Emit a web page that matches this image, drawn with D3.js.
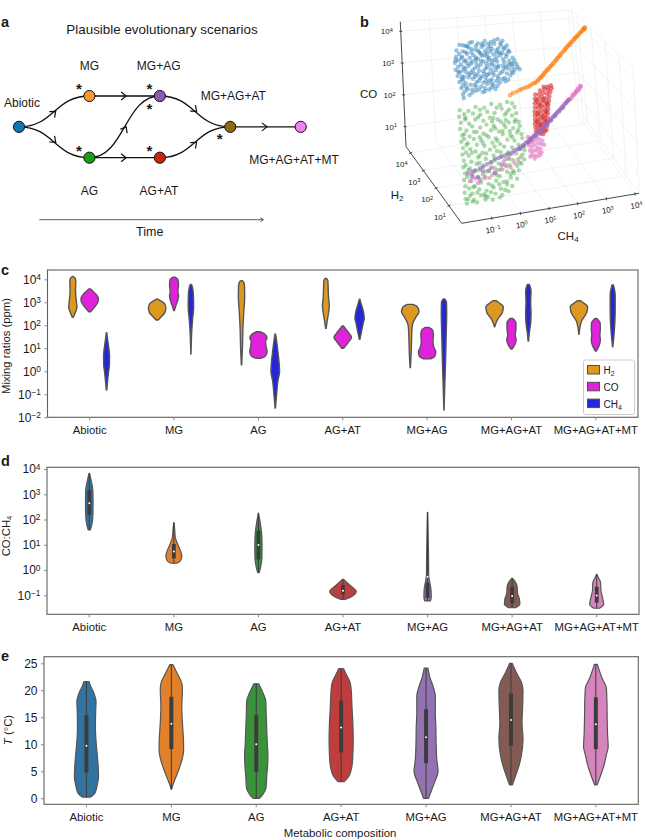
<!DOCTYPE html>
<html><head><meta charset="utf-8">
<style>html,body{margin:0;padding:0;background:#fff}svg{display:block}text{font-family:"Liberation Sans",Arial,sans-serif;fill:#1a1a1a}</style>
<script src="https://cdn.jsdelivr.net/npm/d3@7"></script></head><body>
<svg id="c" width="645" height="840"></svg>
<script>
const categories=["Abiotic","MG","AG","AG+AT","MG+AG","MG+AG+AT","MG+AG+AT+MT"];
const gases=["H2","CO","CH4"];
const gasColors=["#DD981F","#E022DC","#2525DA"];
const tabColors=["#3274a1","#e1812c","#3a923a","#c03d3e","#9372b2","#845b53","#d684bd"];

// panel c: [log10 mixing ratio, relative density]
const mixH2=[
[[2.35,.05],[2.5,.22],[2.8,.46],[3.1,.38],[3.5,.3],[3.9,.33],[4.05,.25],[4.12,.05]],
[[2.23,.1],[2.35,.4],[2.55,.85],[2.75,.97],[2.95,.8],[3.05,.45],[3.13,.1]],
[[.28,.02],[1,.1],[1.8,.15],[2.6,.25],[3.2,.35],[3.7,.33],[3.9,.2],[3.94,.05]],
[[1.87,.03],[2.2,.15],[2.6,.32],[2.85,.38],[3.2,.3],[3.7,.25],[3.95,.22],[4.04,.05]],
[[.16,.02],[.8,.1],[1.3,.14],[1.9,.2],[2.1,.3],[2.3,.55],[2.6,.97],[2.8,.8],[2.91,.3]],
[[1.94,.03],[2.1,.15],[2.3,.4],[2.55,.85],[2.8,.97],[2.95,.6],[3.07,.15]],
[[1.61,.02],[1.9,.1],[2.2,.3],[2.5,.8],[2.8,.97],[2.95,.6],[3.07,.15]]];
const mixCO=[
[[2.59,.1],[2.7,.35],[2.9,.75],[3.1,.97],[3.2,.95],[3.35,.7],[3.5,.3],[3.58,.1]],
[[2.64,.04],[2.85,.2],[3.1,.42],[3.3,.5],[3.47,.42],[3.75,.5],[4.0,.42],[4.09,.1]],
[[.57,.3],[.65,.75],[.85,.97],[1.1,.85],[1.3,.8],[1.45,.95],[1.62,.7],[1.72,.2]],
[[1,.1],[1.15,.4],[1.35,.8],[1.48,.97],[1.65,.7],[1.85,.3],[1.97,.08]],
[[.54,.4],[.65,.85],[.85,.97],[1.05,.75],[1.3,.65],[1.6,.7],[1.8,.6],[1.91,.2]],
[[.97,.08],[1.15,.35],[1.35,.52],[1.6,.42],[1.85,.5],[2.1,.5],[2.3,.12]],
[[.88,.05],[1.1,.35],[1.35,.5],[1.6,.45],[1.85,.5],[2.1,.48],[2.3,.1]]];
const mixCH4=[
[[-.81,.03],[-.5,.1],[-.1,.2],[.3,.32],[.7,.33],[1.1,.22],[1.5,.08],[1.68,.03]],
[[.75,.01],[1.2,.04],[1.8,.1],[2.3,.2],[2.8,.3],[3.3,.28],[3.65,.18],[3.78,.05]],
[[-1.6,.02],[-1,.15],[-.4,.3],[0,.48],[.4,.42],[.9,.28],[1.4,.12],[1.62,.03]],
[[1.39,.03],[1.7,.2],[2.1,.4],[2.3,.52],[2.6,.42],[2.9,.2],[3.13,.03]],
[[-1.68,.01],[-.5,.1],[.5,.18],[1.5,.24],[2.5,.3],[3,.28],[3.14,.1]],
[[1.32,.03],[1.7,.12],[2.1,.26],[2.5,.3],[3,.26],[3.5,.3],[3.78,.1]],
[[1.07,.02],[1.6,.15],[2.2,.25],[2.8,.28],[3.3,.28],[3.75,.08]]];

// panel d: log10 CO:CH4
const ratioViolins=[
[[1.59,.08],[1.8,.18],[2.2,.26],[2.7,.27],[3.2,.25],[3.5,.15],[3.83,.02]],
[[.27,.2],[.35,.45],[.55,.57],[.8,.45],[1.05,.25],[1.3,.1],[1.6,.06],[1.88,.01]],
[[-.1,.05],[.1,.15],[.5,.25],[1,.26],[1.5,.22],[1.9,.12],[2.25,.01]],
[[-1.16,.15],[-1.05,.6],[-.85,.95],[-.65,.6],[-.5,.3],[-.37,.03]],
[[-1.22,.2],[-1.1,.26],[-.8,.25],[-.5,.16],[-.2,.08],[.5,.07],[1.5,.04],[2.28,.01]],
[[-1.49,.25],[-1.35,.55],[-1.15,.52],[-.9,.38],[-.65,.36],[-.45,.2],[-.33,.03]],
[[-1.51,.2],[-1.35,.5],[-1.1,.42],[-.8,.3],[-.5,.28],[-.3,.12],[-.17,.02]]];
const ratioQ1=[2.18,.46,.42,-.96,-1.1,-1.32,-1.29];
const ratioMedian=[2.64,.73,.99,-.82,-.26,-1.03,-1.01];
const ratioQ3=[3.17,1.03,1.56,-.59,-.5,-.66,-.66];

// panel e: temperature
const tempViolins=[
[[.2,.3],[1,.7],[2.5,.88],[4,.98],[6,.95],[8,.88],[10,.8],[13,.73],[16,.75],[18,.78],[19.5,.6],[21,.3],[21.6,.22]],
[[1.7,.03],[2.5,.12],[3.5,.3],[5,.55],[7,.85],[9,1],[11,.98],[14,.9],[17,.85],[20,.9],[21.3,.85],[23,.5],[24.4,.2],[24.75,.12]],
[[0,.25],[.6,.5],[2,.8],[4,.85],[6,.92],[8,.95],[10,.9],[13,.85],[16,.8],[18,.78],[19.5,.55],[20.7,.3],[21.2,.2]],
[[3.1,.25],[4,.6],[6,.88],[8,.95],[11,.98],[14,.95],[17,.88],[20,.82],[21.5,.72],[23,.4],[24,.2]],
[[0,.2],[1.5,.45],[3,.7],[5,.98],[7,.88],[10,.82],[13,.8],[16,.75],[19,.75],[20.5,.6],[22.5,.3],[24.1,.15]],
[[2.5,.12],[4,.35],[6,.65],[8,.85],[11,.98],[14,.9],[17,.95],[20,.98],[21.5,.85],[23,.5],[25,.1]],
[[2.5,.1],[4,.35],[6,.65],[8,.85],[9.5,1],[12,.95],[15,.92],[18,.9],[20.5,.85],[22,.55],[24.8,.12]]];
const tempQ1=[4.75,9.1,4.9,8.5,6.5,9.7,9.1];
const tempMedian=[9.75,13.8,10,13.1,11.3,14.5,13.7];
const tempQ3=[15.4,18.8,15.4,18.1,16.5,19.4,18.7];

// panel a
const nodes=[
{id:"Abiotic",stage:0,lane:0,color:"#1175b5"},
{id:"MG",stage:1,lane:-1,color:"#f7982c"},
{id:"AG",stage:1,lane:1,color:"#12a012"},
{id:"MG+AG",stage:2,lane:-1,color:"#8a5cb8"},
{id:"AG+AT",stage:2,lane:1,color:"#d0210f"},
{id:"MG+AG+AT",stage:3,lane:0,color:"#8c6a0e"},
{id:"MG+AG+AT+MT",stage:4,lane:0,color:"#f080f0"}];
const edges=[["Abiotic","MG"],["Abiotic","AG"],["MG","MG+AG"],["AG","MG+AG"],["AG","AG+AT"],["MG+AG","MG+AG+AT"],["AG+AT","MG+AG+AT"],["MG+AG+AT","MG+AG+AT+MT"]];
const starNodes=["MG","AG","MG+AG","MG+AG","AG+AT","MG+AG+AT"];
const starSides=["nw","nw","nw","s","nw","sw"];

// panel b: [log10 CH4, log10 CO] in a plane of constant log10 H2
const abioticH2=3.2,mgH2=2.7,agH2=2.5,agatH2=3,mgagH2=2.7,lateH2=2.7;
const abioticPts=[[-.52,3.98],[-.31,3.91],[-.08,4.0],[.12,3.93],[.36,3.97],[.58,3.9],[.82,3.96],[.98,3.88],[-.63,3.82],[-.42,3.76],[-.2,3.84],[.03,3.74],[.24,3.8],[.47,3.72],[.69,3.83],[.91,3.75],[1.12,3.71],[-.66,3.62],[-.47,3.55],[-.27,3.66],[-.05,3.58],[.16,3.64],[.33,3.53],[.55,3.61],[.77,3.54],[1.0,3.62],[1.2,3.5],[-.7,3.44],[-.5,3.36],[-.33,3.47],[-.12,3.39],[.09,3.45],[.28,3.34],[.49,3.42],[.68,3.33],[.88,3.44],[1.08,3.36],[1.3,3.3],[-.69,3.22],[-.44,3.16],[-.24,3.27],[-.02,3.18],[.19,3.25],[.4,3.14],[.6,3.22],[.8,3.12],[1.01,3.2],[1.23,3.12],[1.42,3.08],[-.63,3.02],[-.4,2.95],[-.17,3.05],[.06,2.96],[.27,3.03],[.47,2.93],[.71,3.0],[.93,2.92],[1.14,2.98],[1.36,2.92],[1.53,2.9],[-.58,2.82],[-.36,2.75],[-.11,2.85],[.1,2.76],[.34,2.83],[.55,2.73],[.76,2.8],[1.0,2.71],[1.2,2.76],[-.52,2.62],[-.3,2.55],[-.06,2.65],[.17,2.56],[.39,2.62],[.6,2.53],[.82,2.59],[-.47,2.42],[-.25,2.36],[-.02,2.46],[.22,2.38],[.44,2.43],[.66,2.41],[-.45,2.3],
[-.4,3.95],[-.17,3.99],[.05,3.86],[.26,3.9],[.48,3.86],[.7,3.94],[.9,3.82],[-.55,3.7],[-.32,3.72],[-.12,3.68],[.12,3.7],[.36,3.66],[.6,3.68],[.82,3.66],[1.04,3.66],[-.58,3.5],[-.38,3.44],[-.18,3.52],[.03,3.49],[.24,3.52],[.42,3.47],[.65,3.5],[.86,3.52],[1.1,3.44],[-.6,3.3],[-.4,3.26],[-.15,3.33],[.04,3.3],[.2,3.36],[.38,3.25],[.58,3.32],[.76,3.26],[.97,3.3],[1.18,3.22],[1.36,3.2],[-.56,3.12],[-.32,3.08],[-.1,3.12],[.12,3.07],[.34,3.1],[.53,3.05],[.78,3.08],[1.06,3.06],[1.28,3.02],[1.46,2.98],[-.5,2.9],[-.25,2.92],[-.02,2.9],[.2,2.88],[.4,2.9],[.62,2.86],[.85,2.88],[1.08,2.84],[1.3,2.82],[-.46,2.7],[-.2,2.68],[.02,2.72],[.25,2.68],[.47,2.7],[.7,2.66],[.92,2.68],[1.12,2.64],[-.4,2.5],[-.14,2.52],[.09,2.48],[.3,2.5],[.53,2.48],[.74,2.5],
[-.45,3.6],[-.1,3.78],[.2,3.6],[.55,3.78],[.95,3.5],[-.6,3.15],[-.28,3.37],[.1,3.2],[.45,3.35],[.75,3.4],[1.15,3.1],[-.48,2.98],[-.05,3.0],[.3,2.95],[.66,3.12],[1.25,2.88],[-.35,2.62],[.0,2.58],[.35,2.72],[.78,2.72],[1.02,2.6],[-.15,2.42],[.3,2.4],[.55,2.6],[-.25,3.9],[.32,3.84],[.75,3.62],[1.16,3.55],[.95,3.1],[-.68,3.52],[-.22,3.0],[.15,2.83],[.6,2.95],[1.0,3.0],[-.35,3.2],[.42,3.58],[-.45,2.85],[.0,3.42],[.52,3.2],[1.3,3.12]];
const mgPts=[[.95,2.45],[1.05,2.5],[1.18,2.52],[1.29,2.56],[1.36,2.58],[1.46,2.6],[1.55,2.61],[1.64,2.63],[1.7,2.67],[1.78,2.7],[1.84,2.7],[1.9,2.74],[1.95,2.77],[2.0,2.82],[2.04,2.84],[2.08,2.88],[2.12,2.9],[2.16,2.95],[2.2,2.98],[2.25,3.03],[2.29,3.04],[2.33,3.08],[2.37,3.12],[2.41,3.15],[2.46,3.18],[2.5,3.22],[2.56,3.27],[2.6,3.3],[2.64,3.35],[2.68,3.37],[2.72,3.42],[2.76,3.44],[2.8,3.49],[2.87,3.53],[2.9,3.58],[2.94,3.6],[2.98,3.64],[3.02,3.67],[3.06,3.71],[3.1,3.72],[3.14,3.77],[3.18,3.79],[3.24,3.84],[3.27,3.88],[3.3,3.89],[3.34,3.93],[3.38,3.95],[3.42,3.98],[3.46,4.02],[3.5,4.04],[3.54,4.08],[3.58,4.1],[3.62,4.14],[3.65,4.17],[3.63,4.12],[3.6,4.13]];
const agPts=[[-.9,2.37],[-.6,2.3],[-.35,2.39],[-.05,2.32],[.2,2.4],[.5,2.33],[.75,2.38],[.92,2.31],[-.93,2.17],[-.72,2.1],[-.45,2.2],[-.2,2.12],[.05,2.18],[.3,2.1],[.55,2.2],[.8,2.13],[1.0,2.18],[-.88,1.97],[-.6,1.9],[-.38,2.0],[-.1,1.92],[.12,1.98],[.4,1.88],[.65,1.99],[.9,1.93],[1.05,1.98],[-.92,1.78],[-.7,1.7],[-.5,1.8],[-.22,1.72],[0,1.78],[.25,1.7],[.5,1.8],[.78,1.73],[1.02,1.78],[1.12,1.7],[-.86,1.57],[-.6,1.5],[-.35,1.6],[-.12,1.52],[.15,1.58],[.42,1.5],[.66,1.6],[.92,1.53],[1.15,1.57],[-.9,1.38],[-.68,1.3],[-.46,1.4],[-.2,1.32],[.06,1.38],[.3,1.3],[.55,1.4],[.82,1.33],[1.05,1.38],[1.2,1.3],[-.85,1.17],[-.6,1.1],[-.36,1.2],[-.1,1.12],[.18,1.18],[.44,1.1],[.7,1.2],[.95,1.13],[1.22,1.17],[-.88,.97],[-.66,.9],[-.42,1.0],[-.18,.92],[.08,.98],[.32,.9],[.58,1.0],[.85,.93],[1.08,.98],[1.26,.9],[-.84,.77],[-.58,.7],[-.34,.8],[-.08,.72],[.2,.78],[.46,.7],[.72,.8],[.98,.73],[1.28,.78],[-.87,.57],[-.64,.5],[-.4,.6],[-.16,.52],[.1,.58],[.36,.5],[.6,.6],[.86,.53],[1.12,.58],[1.25,.5],[-.82,.37],[-.56,.3],[-.3,.4],[-.05,.32],[.22,.38],[.48,.3],[.74,.4],[1.0,.33],[1.15,.38],[-.86,.17],[-.62,.1],[-.38,.2],[-.14,.12],[.12,.18],[.38,.1],[.64,.2],[.88,.13],[1.05,.18],[-.83,-.03],[-.55,-.1],[-.28,0],[-.02,-.08],[.25,-.02],[.5,-.1],[.76,0],[.98,-.07],[-.86,-.23],[-.6,-.3],[-.35,-.2],[-.1,-.28],[.15,-.22],[.4,-.3],[.62,-.2],[.8,-.27],[-.84,-.43],[-.55,-.5],[-.3,-.4],[-.06,-.48],[.2,-.42],[.44,-.5],[.66,-.42],[-.8,-.58],[-.45,-.6],[-.15,-.55],[.1,-.6],[.35,-.56],
[-.75,2.22],[-.2,2.28],[.38,2.25],[.68,1.82],[-.78,1.6],[-.25,1.42],[.3,1.62],[.8,1.45],[-.75,1.02],[-.28,.85],[.25,1.05],[.72,.6],[-.7,.45],[-.2,.25],[.32,.3],[.85,.2],[-.7,-.12],[-.18,-.38],[.35,-.15],[-.68,-.35],
[-.72,2.05],[-.28,2.05],[.2,1.85],[.72,2.05],[.98,1.72],[-.8,1.45],[-.45,1.62],[-.02,1.45],[.55,1.5],[1.1,1.45],[-.72,1.25],[-.15,1.22],[.35,1.22],[.88,1.25],[-.55,.98],[-.05,.88],[.45,.85],[1.15,.85],[-.78,.62],[-.3,.62],[.22,.62],[.78,.72],[1.2,.65],[-.48,.4],[.08,.4],[.6,.42],[1.08,.42],[-.75,.25],[-.3,.12],[.28,.15],[.76,.12],[-.5,-.08],[.1,-.15],[.62,-.1],[-.75,-.45],[-.42,-.3],[.05,-.35],[.55,-.35],[-.6,-.55],[-.15,-.45],[.25,1.95],[.6,1.7]];
const agatPts=[[2.25,2.35],[2.38,2.33],[2.5,2.35],[2.12,2.25],[2.27,2.27],[2.4,2.24],[2.52,2.26],[1.95,2.15],[2.08,2.13],[2.22,2.16],[2.35,2.12],[2.47,2.15],[1.93,2.02],[2.05,2.0],[2.18,2.04],[2.3,1.98],[2.43,2.02],[1.92,1.88],[2.04,1.86],[2.17,1.9],[2.29,1.85],[2.41,1.89],[1.92,1.75],[2.03,1.73],[2.16,1.76],[2.28,1.72],[2.38,1.76],[1.9,1.62],[2.02,1.6],[2.14,1.64],[2.26,1.59],[2.37,1.63],[1.9,1.5],[2.01,1.47],[2.13,1.51],[2.25,1.46],[2.35,1.5],[1.9,1.37],[2.01,1.34],[2.12,1.38],[2.23,1.33],[2.33,1.37],[1.89,1.24],[2,1.21],[2.11,1.25],[2.22,1.2],[2.32,1.24],[1.9,1.12],[2,1.09],[2.1,1.13],[2.2,1.08],[2.3,1.11],[1.92,1],[2.02,.97],[2.12,1],[2.22,.96],[2.28,.99],[2.06,.9],[2.16,.88],[1.98,1.95],[2.1,1.8],[2.22,1.95],[2.34,1.82],[2,1.55],[2.18,1.42],[2.3,1.56],[1.96,1.3],[2.08,1.18],[2.26,1.28]];
const mgagPts=[[-.63,.23],[-.48,.27],[-.36,.28],[-.2,.33],[-.1,.36],[.05,.42],[.18,.46],[.32,.54],[.44,.55],[.55,.58],[.68,.6],[.78,.63],[.92,.64],[1,.69],[1.08,.72],[1.16,.73],[1.24,.78],[1.32,.82],[1.4,.87],[1.46,.9],[1.52,.93],[1.58,.97],[1.64,1.0],[1.7,1.03],[1.76,1.07],[1.82,1.12],[1.89,1.17],[1.94,1.2],[2,1.25],[2.06,1.29],[2.12,1.33],[2.18,1.38],[2.24,1.42],[2.3,1.47],[2.37,1.52],[2.42,1.56],[2.48,1.6],[2.54,1.65],[2.6,1.7],[2.66,1.74],[2.72,1.79],[2.78,1.84],[2.82,1.88],[2.87,1.92],[2.92,1.96],[2.98,2.0],[1.5,.87],[1.62,.94],[1.78,1.05],[1.9,1.13],[2.05,1.24],[2.2,1.34],[2.33,1.45],[2.47,1.56],[2.62,1.68],[2.76,1.78],[1.2,.72],[1.35,.8],[-.5,.1],[-.3,.05],[-.1,.22],[.1,.2],[.3,.1],[.55,.32]];
const latePts=[[2.9,1.92],[3.0,2.0],[3.06,2.03],[3.1,2.08],[3.16,2.12],[3.2,2.15],[3.24,2.2],[3.28,2.22],[3.32,2.26],[3.36,2.28],[3.4,2.33],[3.42,2.36],[3.38,2.37],[3.3,2.3],[3.22,2.22],[3.12,2.14],[2.95,1.99],[2.7,1.78],[2.5,1.62],[2.3,1.44],[2.1,1.28],[1.9,1.1],[1.5,1.05],[1.6,1.0],[1.7,1.06],[1.8,.98],[1.9,.92],[2,.86],[1.55,.88],[1.65,.85],[1.75,.9],[1.85,.8],[1.95,.76],[2.05,.72],[1.52,.78],[1.62,.72],[1.72,.76],[1.82,.66],[1.92,.62],[1.55,.62],[1.65,.58],[1.75,.6],[1.85,.52],[1.95,.5],[1.6,.48],[1.7,.44],[1.8,.4],[1.55,.42],[1.9,.42],[1.7,.34],[-.58,-.02],[-.4,.04],[-.22,-.06],[-.05,.05],[.1,-.02],[.3,.12],[.5,.18],[.7,.25],[.85,.2],[1.0,.3],[1.12,.4],[-.5,.18],[-.3,-.12],[.2,.3],[.62,.4],[.8,.48]];
const ch4Ticks=[-1,0,1,2,3,4],h2Ticks=[1,2,3,4],coTicks=[1,2,3,4];

// shared
const svg=d3.select("#c");
const FONT=11.3;
function power(sel,exp){sel.text(null);sel.append("tspan").text("10");
  sel.append("tspan").attr("dy","-.42em").attr("font-size","0.7em").text(String(exp).replace("-","\u2212"));}
function subText(sel,parts){parts.forEach(([t,s])=>{const ts=sel.append("tspan").text(t);
  if(s){ts.attr("font-size","0.68em").attr("dy","0.3em");}else if(sel.selectAll("tspan").size()>1){ts.attr("dy","-0.2em");}});}
function label(x,y,t,size,anchor="middle",rot){const n=svg.append("text").attr("x",x).attr("y",y).attr("text-anchor",anchor).attr("font-size",size).text(t);
  if(rot!==undefined)n.attr("transform",`rotate(${rot} ${x} ${y})`);return n;}
function violin(g,prof,cx,yOf,widthScale,fill,sw=1.2){
  const area=d3.area().y(d=>yOf(d[0])).x0(d=>cx-widthScale(d[1])).x1(d=>cx+widthScale(d[1])).curve(d3.curveMonotoneY);
  g.append("path").attr("d",area(prof)).attr("fill",fill).attr("stroke","#555").attr("stroke-width",sw).attr("stroke-linejoin","round");
}
function panel(left,right,top,bottom,scale,ticks,fmt){
  const x=d3.scaleBand(categories,[left,right]);
  const g=svg.append("g");
  g.append("rect").attr("x",left).attr("y",top).attr("width",right-left).attr("height",bottom-top).attr("fill","none").attr("stroke","#606060").attr("stroke-width",1.1);
  const ax=g.append("g").attr("transform",`translate(0,${bottom})`).call(d3.axisBottom(x).tickSize(3).tickPadding(5.5));
  ax.select(".domain").remove();ax.selectAll("line").attr("stroke","#888");ax.selectAll("text").attr("font-size",FONT).attr("font-family",null);
  const ay=g.append("g").attr("transform",`translate(${left},0)`).call(d3.axisLeft(scale).tickValues(ticks).tickSize(3).tickPadding(3.5));
  ay.select(".domain").remove();ay.selectAll("line").attr("stroke","#888");ay.selectAll("text").attr("font-size",12).attr("font-family",null);
  if(fmt)ay.selectAll("text").each(function(d){power(d3.select(this),Math.round(Math.log10(d)));});
  return {x,g};
}
const logFmtScale=(lo,hi,top,bottom)=>d3.scaleLog().domain([Math.pow(10,lo),Math.pow(10,hi)]).range([bottom,top]);

// panel c
{const y=logFmtScale(-2,4.404,270,417.3);
 const {x,g}=panel(47.5,638,270,417.3,y,[1e-2,1e-1,1,10,100,1e3,1e4],true);
 const hue=d3.scalePoint(gases,[-.2,.2]);
 const w=d3.scaleLinear([0,1],[0,9]);
 [mixH2,mixCO,mixCH4].forEach((series,s)=>series.forEach((p,i)=>{
   const cx=x(categories[i])+x.bandwidth()/2+hue(gases[s])*x.step();
   violin(g,p,cx,v=>y(Math.pow(10,v)),w,gasColors[s],1.4);}));
 // legend
 const lg=g.append("g").attr("transform","translate(583.5,360)");
 lg.append("rect").attr("width",51).attr("height",54.5).attr("rx",2).attr("fill","#fff").attr("stroke","#ccc").attr("stroke-width",1);
 gases.forEach((n,i)=>{const yy=5.5+i*16.8;
   lg.append("rect").attr("x",4).attr("y",yy).attr("width",12).attr("height",8.5).attr("fill",gasColors[i]).attr("stroke","#505050");
   const t=lg.append("text").attr("x",20).attr("y",yy+8.5).attr("font-size",10);
   if(i===1)t.text("CO");else subText(t,[[n.replace(/\d/,""),0],[n.match(/\d/)[0],1]]);
 });
 label(10,346,"Mixing ratios (ppm)",11.3,"middle",-90);
}
// panel d
{const y=logFmtScale(-1.75,4.066,467.3,614.3);
 const {x,g}=panel(47,639,467.3,614.3,y,[.1,1,10,100,1e3,1e4],true);
 const w=d3.scaleLinear([0,1],[0,14]);
 ratioViolins.forEach((p,i)=>{
  const cx=x(categories[i])+x.bandwidth()/2,Y=v=>y(Math.pow(10,v));
  violin(g,p,cx,Y,w,tabColors[i]);
  const ex=d3.extent(p,d=>d[0]);
  g.append("line").attr("x1",cx).attr("x2",cx).attr("y1",Y(ex[0])).attr("y2",Y(ex[1])).attr("stroke","#3c3c3c").attr("stroke-width",1);
  g.append("rect").attr("x",cx-1.9).attr("width",3.8).attr("y",Y(ratioQ3[i])).attr("height",Y(ratioQ1[i])-Y(ratioQ3[i])).attr("fill","#3c3c3c");
  g.append("circle").attr("cx",cx).attr("cy",Y(ratioMedian[i])).attr("r",1).attr("fill","#fff");
 });
 const t=svg.append("text").attr("transform","translate(10,536) rotate(-90)").attr("text-anchor","middle").attr("font-size",11.3);
 subText(t,[["CO:CH",0],["4",1]]);
}
// panel e
{const y=d3.scaleLinear([0,25],[798.3,663.3]);
 const {x,g}=panel(44,638.3,656.7,804.3,y,[0,5,10,15,20,25],false);
 const w=d3.scaleLinear([0,1],[0,12.3]);
 tempViolins.forEach((p,i)=>{
  const cx=x(categories[i])+x.bandwidth()/2;
  violin(g,p,cx,y,w,tabColors[i]);
  const ex=d3.extent(p,d=>d[0]);
  g.append("line").attr("x1",cx).attr("x2",cx).attr("y1",y(ex[0])).attr("y2",y(ex[1])).attr("stroke","#3c3c3c").attr("stroke-width",1);
  g.append("rect").attr("x",cx-2).attr("width",4).attr("y",y(tempQ3[i])).attr("height",y(tempQ1[i])-y(tempQ3[i])).attr("fill","#3c3c3c");
  g.append("circle").attr("cx",cx).attr("cy",y(tempMedian[i])).attr("r",1).attr("fill","#fff");
 });
 const t=svg.append("text").attr("transform","translate(12,730) rotate(-90)").attr("text-anchor","middle").attr("font-size",11.3);
 t.append("tspan").attr("font-style","italic").text("T");t.append("tspan").text(" (\u00B0C)");
 label(340,837,"Metabolic composition",11.4);
}
// panel a
{const sx=d3.scaleLinear([0,4],[19,300.7]),sy=d3.scaleLinear([-1,1],[96,157.7]);
 const g=svg.append("g"),byId=new Map(nodes.map(n=>[n.id,n]));
 const link=d3.linkHorizontal();
 const chevron=(x,y,a)=>{g.append("path").attr("d",d3.line()([[-5,-4],[0,0],[-5,4]])).attr("transform",`translate(${x},${y}) rotate(${a})`).attr("fill","none").attr("stroke","#111").attr("stroke-width",1.2);};
 edges.forEach(([a,b])=>{const A=byId.get(a),B=byId.get(b),p=[sx(A.stage),sy(A.lane)],q=[sx(B.stage),sy(B.lane)];
  g.append("path").attr("d",link({source:p,target:q})).attr("fill","none").attr("stroke","#111").attr("stroke-width",1.3);
  chevron((p[0]+q[0])/2+1.5,(p[1]+q[1])/2,Math.atan2(2*(q[1]-p[1]),q[0]-p[0])*180/Math.PI);});
 g.selectAll("circle").data(nodes).join("circle").attr("cx",d=>sx(d.stage)).attr("cy",d=>sy(d.lane)).attr("r",5.6).attr("fill",d=>d.color).attr("stroke","#111").attr("stroke-width",1);
 const off={nw:[-10.5,-5],s:[-10.5,14.5],sw:[-10.5,14]};
 starNodes.forEach((id,i)=>{const n=byId.get(id),o=off[starSides[i]];
  g.append("text").attr("x",sx(n.stage)+o[0]).attr("y",sy(n.lane)+o[1]+3).attr("text-anchor","middle").attr("font-size",15).attr("font-weight","bold").text("*");});
 label(162,34,"Plausible evolutionary scenarios",13.4);
 [[sx(1),70,"MG"],[158.7,70,"MG+AG"],[22,107,"Abiotic"],[233.3,100,"MG+AG+AT"],[294,163.5,"MG+AG+AT+MT"],[sx(1),194.5,"AG"],[159,194.5,"AG+AT"]].forEach(d=>label(d[0],d[1],d[2],12));
 label(149.7,236,"Time",12.5);
 const t=d3.scaleLinear([0,1],[39.3,263.3]);
 g.append("line").attr("x1",t(0)).attr("x2",t(1)).attr("y1",219.7).attr("y2",219.7).attr("stroke","#333").attr("stroke-width",.8);
 g.append("path").attr("d",d3.line()([[-3,-2],[0,0],[-3,2]])).attr("transform",`translate(${t(1)},219.7)`).attr("fill","none").attr("stroke","#333").attr("stroke-width",.8);
}
// panel b
{const F=[461.7,223.3],C=[639,193.3],B=[406,146.7],T=[400.3,21.7];
 const ch4S=d3.scaleLinear([-2.05,4.14],[0,1]),h2S=d3.scaleLinear([0,4.36],[0,1]),coS=d3.scaleLinear([.37,4.3],[0,1]);
 const P=(c,h,o)=>{const a=ch4S(c),b=h2S(h),e=coS(o);return [F[0]+a*(C[0]-F[0])+b*(B[0]-F[0])+e*(T[0]-B[0]),F[1]+a*(C[1]-F[1])+b*(B[1]-F[1])+e*(T[1]-B[1])];};
 // the grid walls narrow slightly towards the far corner
 const PG=(c,h,o)=>{const p=P(c,h,o),a=ch4S(c),e=coS(o),b=h2S(h);return [p[0]-6*a*e*b,p[1]+18.3*a*e*b];};
 const g=svg.append("g"),line=d3.line();
 const seg=(a,b,st="#f0f0f0",sw=.8)=>g.append("path").attr("d",line([a,b])).attr("stroke",st).attr("stroke-width",sw).attr("fill","none");
 const cmin=-2.05,cmax=4.14,hmin=0,hmax=4.36,omin=.37,omax=4.3;
 ch4Ticks.forEach(c=>{seg(PG(c,hmin,omin),PG(c,hmax,omin));seg(PG(c,hmax,omin),PG(c,hmax,omax));});
 h2Ticks.forEach(h=>{seg(PG(cmin,h,omin),PG(cmax,h,omin));seg(PG(cmax,h,omin),PG(cmax,h,omax));});
 coTicks.forEach(o=>{seg(PG(cmin,hmax,o),PG(cmax,hmax,o));seg(PG(cmax,hmax,o),PG(cmax,hmin,o));});
 seg(PG(cmax,hmax,omin),PG(cmax,hmax,omax));seg(PG(cmin,hmax,omax),PG(cmax,hmax,omax));seg(PG(cmax,hmax,omax),PG(cmax,hmin,omax));seg(PG(cmax,hmin,omin),PG(cmax,hmin,omax));seg(PG(cmax,hmin,omin),PG(cmax,hmax,omin));
 const cloud=(pts,h,col,r,op)=>g.append("g").selectAll("circle").data(pts).join("circle")
   .attr("cx",d=>P(d[0],h,d[1])[0]).attr("cy",d=>P(d[0],h,d[1])[1]).attr("r",r).attr("fill",col).attr("fill-opacity",op);
 cloud(abioticPts,abioticH2,"#1f77b4",2.2,.45);
 cloud(mgPts,mgH2,"#ff7f0e",2.3,.6);
 cloud(agPts,agH2,"#2ca02c",2.2,.4);
 cloud(agatPts,agatH2,"#d62728",2.3,.6);
 cloud(latePts,lateH2,"#e377c2",2.2,.6);
 cloud(mgagPts,mgagH2,"#9467bd",2.3,.6);
 seg(P(cmin,hmax,omin),P(cmin,hmax,omax),"#333",.9);seg(P(cmin,hmax,omin),P(cmin,hmin,omin),"#333",.9);seg(P(cmin,hmin,omin),P(cmax,hmin,omin),"#333",.9);
 const tick=(a,dx,dy)=>seg([a[0]-dx,a[1]-dy],[a[0]+dx,a[1]+dy],"#333",.9);
 const tl=(x,y,e,rot)=>{const t=svg.append("text").attr("x",x).attr("y",y).attr("text-anchor","middle").attr("font-size",8);
   if(rot)t.attr("transform",`rotate(${rot} ${x} ${y})`);power(t,e);};
 coTicks.forEach(o=>{const a=P(cmin,hmax,o);tick(a,1.5,.2);tl(a[0]-14,a[1]+3,o);});
 h2Ticks.forEach(h=>{const a=P(cmin,h,omin);tick(a,1.5,-.6);tl(a[0]-9,a[1]+14,h);});
 ch4Ticks.forEach(c=>{const a=P(c,hmin,omin);tick(a,.2,1.5);tl(a[0]+2,a[1]+14,c,-10);});
 label(368.5,98,"CO",11.5);
 const h=svg.append("text").attr("x",397).attr("y",199).attr("text-anchor","middle").attr("font-size",11.5);subText(h,[["H",0],["2",1]]);
 const c=svg.append("text").attr("x",568).attr("y",240).attr("text-anchor","middle").attr("font-size",11.5);subText(c,[["CH",0],["4",1]]);
}
// panel letters
[["a",1,27],["b",360,27],["c",1,275],["d",1,466],["e",1,661]].forEach(d=>svg.append("text").attr("x",d[1]).attr("y",d[2]).attr("font-size",14.5).attr("font-weight","bold").attr("fill","#000").text(d[0]));
</script></body></html>
